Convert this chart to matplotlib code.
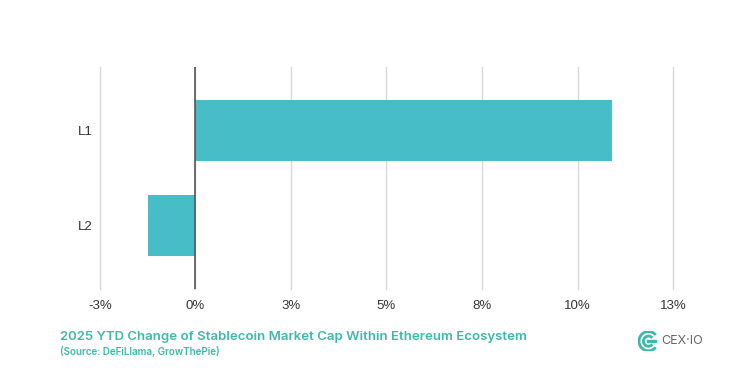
import math
import matplotlib
matplotlib.use("Agg")
import matplotlib.pyplot as plt
from matplotlib.patches import Arc, Rectangle
from matplotlib.ticker import FuncFormatter

plt.rcParams["font.family"] = ["Inter", "DejaVu Sans"]

categories = ["L1", "L2"]
ytd_change = [10.91, -1.24]
x_ticks = [-2.5, 0, 2.5, 5, 7.5, 10, 12.5]

BAR = "#47BDC7"
TEAL = "#3DB9A9"


def pct(v, pos):
    # round half away from zero, like the source chart
    r = math.floor(abs(v) + 0.5) * (1 if v >= 0 else -1)
    return f"{r}%"


fig = plt.figure(figsize=(7.39, 3.89), dpi=100)
ax = fig.add_axes([0.1353, 0.257, 0.7754, 0.5708])

ypos = list(range(len(categories)))
ax.barh(ypos, ytd_change, height=0.64, color=BAR, zorder=3)
ax.axvline(0, color="#555555", lw=1.2, zorder=4)

ax.set_xlim(-2.5, 12.5)
ax.set_ylim(1.668, -0.668)
ax.set_xticks(x_ticks)
ax.xaxis.set_major_formatter(FuncFormatter(pct))
ax.set_yticks(ypos)
ax.set_yticklabels(categories)
ax.grid(axis="x", color="#d9d9d9", lw=1, zorder=0)
for gl in ax.get_xgridlines():
    gl.set_clip_on(False)
for s in ax.spines.values():
    s.set_visible(False)
ax.tick_params(length=0, labelsize=9.5, labelcolor="#333333")
ax.tick_params(axis="x", pad=8)
ax.tick_params(axis="y", pad=5)
for t in ax.get_xticklabels() + ax.get_yticklabels():
    t.set_fontfamily(["Liberation Sans", "DejaVu Sans"])

fig.text(0.081, 0.134, "2025 YTD Change of Stablecoin Market Cap Within Ethereum Ecosystem",
         fontsize=9.5, fontweight="semibold", color=TEAL, va="center")
fig.text(0.081, 0.097, "(Source: DeFiLlama, GrowThePie)",
         fontsize=7.1, fontweight="semibold", color=TEAL, va="center")

# logo
lax = fig.add_axes([0.864, 0.097, 0.027, 0.052])
lax.set_xlim(0, 1)
lax.set_ylim(0, 1)
lax.axis("off")
lax.add_patch(Arc((0.5, 0.5), 0.95, 0.95, theta1=40, theta2=320, color=TEAL, lw=2.0))
lax.add_patch(Arc((0.5, 0.5), 0.5, 0.5, theta1=40, theta2=320, color=TEAL, lw=2.0))
lax.add_patch(Rectangle((0.45, 0.44), 0.45, 0.12, color=TEAL))
fig.text(0.895, 0.123, "CEX·IO", fontsize=9, color="#666666", va="center")

fig.savefig("out.png", dpi=100, facecolor="white")
